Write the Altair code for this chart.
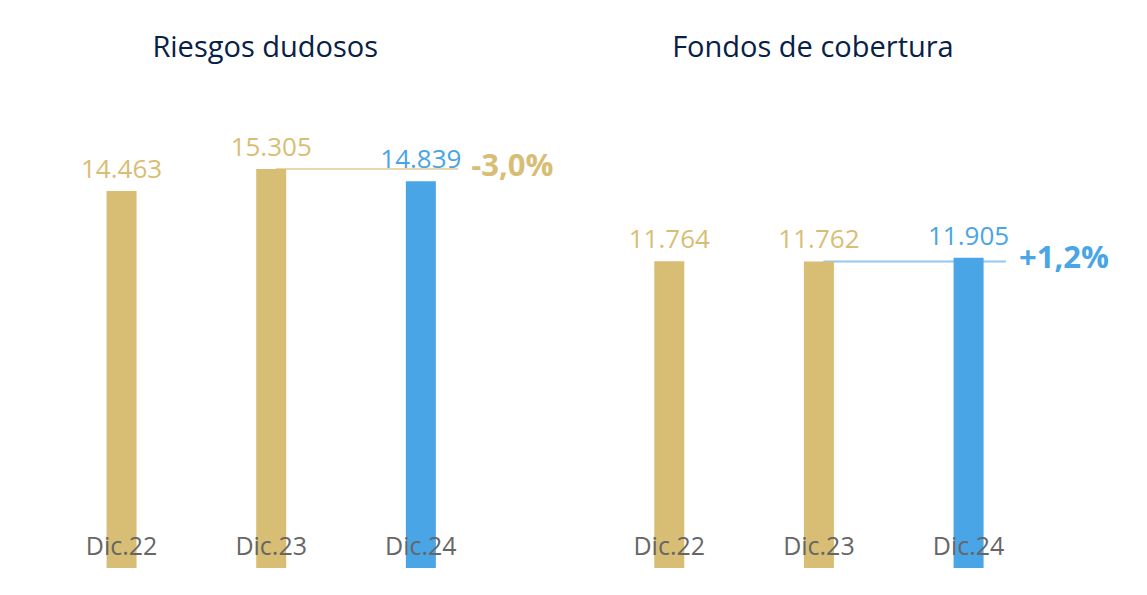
import altair as alt

categories = ["Dic.22", "Dic.23", "Dic.24"]
riesgos = [14463, 15305, 14839]
fondos = [11764, 11762, 11905]
riesgos_labels = ["14.463", "15.305", "14.839"]
fondos_labels = ["11.764", "11.762", "11.905"]
kinds = ["prev", "prev", "last"]
titles = ["Riesgos dudosos", "Fondos de cobertura"]
changes = ["-3,0%", "+1,2%"]

FONT = "Open Sans"
PANEL_OFFSET = 3.66          # horizontal shift (in bar steps) of the second panel
X_DOMAIN = [-0.692, 6.732]
Y_DOMAIN = [0, 21290]

n = len(categories)
panels = [(riesgos, riesgos_labels), (fondos, fondos_labels)]

bar_rows = []
for p, (vals_, labs_) in enumerate(panels):
    for i in range(n):
        bar_rows.append({"pos": i + p * PANEL_OFFSET, "value": vals_[i], "label": labs_[i],
                         "kind": kinds[i], "cat": categories[i]})

chg_rows = []
for p, (vals_, _) in enumerate(panels):
    chg_rows.append({"start": n - 2 + 0.03 + p * PANEL_OFFSET,
                     "end": n - 1 + 0.25 + p * PANEL_OFFSET,
                     "value": vals_[n - 2], "change": changes[p], "panel": "p%d" % p})

title_rows = [{"pos": (n - 1) / 2 + p * PANEL_OFFSET, "title": titles[p]} for p in range(2)]

bar_data = alt.Data(values=bar_rows)
chg_data = alt.Data(values=chg_rows)
title_data = alt.Data(values=title_rows)

xscale = alt.Scale(domain=X_DOMAIN, nice=False, zero=False)
yscale = alt.Scale(domain=Y_DOMAIN, nice=False)

x = alt.X("pos:Q", scale=xscale, axis=None)
y = alt.Y("value:Q", scale=yscale, axis=None)
color = alt.Color("kind:N", scale=alt.Scale(domain=["prev", "last"],
                                            range=["#1973B8", "#004481"]), legend=None)
chg_color = alt.Color("panel:N", scale=alt.Scale(domain=["p0", "p1"],
                                                 range=["#D8BE75", "#49A5E6"]), legend=None)

rule = alt.Chart(chg_data).mark_rule(strokeWidth=2, opacity=0.6).encode(
    x=alt.X("start:Q", scale=xscale, axis=None), x2=alt.X2("end:Q"),
    y=alt.Y("value:Q", scale=yscale, axis=None), color=chg_color)
bars = alt.Chart(bar_data).mark_bar(size=30).encode(x=x, y=y, color=color)
vals = alt.Chart(bar_data).mark_text(dy=-8, baseline="bottom", font=FONT, fontSize=26).encode(
    x=x, y=y, text=alt.Text("label:N"), color=color)
cats = alt.Chart(bar_data).mark_text(baseline="bottom", font=FONT, fontSize=25,
                                     color="#666666").encode(
    x=x, y=alt.value(547), text=alt.Text("cat:N"))
pct = alt.Chart(chg_data).mark_text(align="left", baseline="middle", dx=13, dy=-2, font=FONT,
                                    fontSize=31, fontWeight="bold").encode(
    x=alt.X("end:Q", scale=xscale, axis=None), y=alt.Y("value:Q", scale=yscale, axis=None),
    text=alt.Text("change:N"), color=chg_color)
heads = alt.Chart(title_data).mark_text(baseline="bottom", dx=-6, font=FONT, fontSize=29,
                                        color="#072146").encode(
    x=x, y=alt.value(50), text=alt.Text("title:N"))

chart = alt.layer(rule, bars, vals, cats, pct, heads).properties(
    width=1121, height=555
).configure_view(strokeWidth=0)

chart.save("out.html", embed_options={"renderer": "svg", "actions": False})
